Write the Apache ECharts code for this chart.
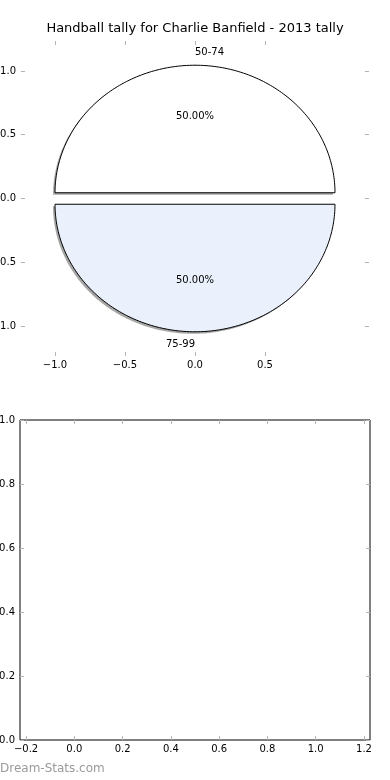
<!DOCTYPE html>
<html><head><meta charset="utf-8">
<script src="https://cdn.jsdelivr.net/npm/echarts@6/dist/echarts.min.js"></script>
<style>html,body{margin:0;padding:0;background:#fff}#c{width:390px;height:780px}</style>
</head><body><div id="c"></div>
<script>
const titleText = 'Handball tally for Charlie Banfield - 2013 tally';
const categories = ['50-74', '75-99'];
const values = [50, 50];
const sliceColors = ['#ffffff', '#ebf1fc'];
const explode = [0.045, 0.045];
const pieXTicks = [-1.0, -0.5, 0.0, 0.5];
const pieYTicks = [-1.0, -0.5, 0.0, 0.5, 1.0];
const emptyXTicks = [-0.2, 0.0, 0.2, 0.4, 0.6, 0.8, 1.0, 1.2];
const emptyYTicks = [0.0, 0.2, 0.4, 0.6, 0.8, 1.0];
const watermark = 'Dream-Stats.com';

const FONT = 'DejaVu Sans';
const fmt = v => { const s = Math.abs(v).toFixed(1); return v < -1e-9 ? '\u2212' + s : s; };

function mkAxis(gridIndex, position, min, max, ticks, labels, margin) {
  return {
    type: 'value', gridIndex: gridIndex, position: position, min: min, max: max,
    axisLine: { show: false, onZero: false },
    splitLine: { show: false },
    axisTick: { show: true, inside: true, length: 4, customValues: ticks, lineStyle: { color: '#b4b4b4', width: 1 } },
    axisLabel: { show: labels, customValues: ticks, formatter: fmt, margin: margin, color: '#000', fontFamily: FONT, fontSize: 10 }
  };
}

const total = values.reduce((a, b) => a + b, 0);

function renderSlice(params, api) {
  const i = params.dataIndex;
  let before = 0;
  for (let k = 0; k < i; k++) before += values[k];
  const v = api.value(1);
  const t1 = before / total * 2 * Math.PI;
  const t2 = (before + v) / total * 2 * Math.PI;
  const tm = (t1 + t2) / 2;
  const ex = explode[i];
  const cx = ex * Math.cos(tm), cy = ex * Math.sin(tm);
  const pts = [api.coord([cx, cy])];
  const n = 160;
  for (let k = 0; k <= n; k++) {
    const t = t1 + (t2 - t1) * k / n;
    pts.push(api.coord([cx + Math.cos(t), cy + Math.sin(t)]));
  }
  const shadowPts = pts.map(p => [p[0] - 2, p[1] + 2]);
  const pct = api.coord([cx + 0.6 * Math.cos(tm), cy + 0.6 * Math.sin(tm)]);
  const lab = api.coord([cx + 1.1 * Math.cos(tm), cy + 1.1 * Math.sin(tm)]);
  return {
    type: 'group',
    children: [
      { type: 'polygon', shape: { points: shadowPts }, style: { fill: 'rgba(77,77,77,0.5)' }, z2: 0 },
      { type: 'polygon', shape: { points: pts }, style: { fill: sliceColors[i], stroke: '#000', lineWidth: 1 }, z2: 10 },
      { type: 'text', z2: 20, style: { text: (v / total * 100).toFixed(2) + '%', x: pct[0], y: pct[1], align: 'center', verticalAlign: 'middle', font: '10px "DejaVu Sans"', fill: '#000' } },
      { type: 'text', z2: 20, style: { text: categories[i], x: lab[0], y: lab[1], align: Math.cos(tm) > 0 ? 'left' : 'right', verticalAlign: 'middle', font: '10px "DejaVu Sans"', fill: '#000' } }
    ]
  };
}

const chart = echarts.init(document.getElementById('c'), null, { renderer: 'canvas' });
chart.setOption({
  animation: false,
  backgroundColor: '#ffffff',
  grid: [
    { left: 21, top: 41, width: 348, height: 315, show: false, outerBoundsMode: 'none', containLabel: false },
    { left: 20, top: 420, width: 350, height: 320, show: true, borderColor: '#000', borderWidth: 1, backgroundColor: 'transparent', outerBoundsMode: 'none', containLabel: false }
  ],
  xAxis: [
    mkAxis(0, 'bottom', -1.243, 1.243, pieXTicks, true, 4),
    mkAxis(0, 'top', -1.243, 1.243, pieXTicks, false, 4),
    mkAxis(1, 'bottom', -0.225, 1.225, emptyXTicks, true, 4),
    mkAxis(1, 'top', -0.225, 1.225, emptyXTicks, false, 4)
  ],
  yAxis: [
    mkAxis(0, 'left', -1.235, 1.235, pieYTicks, true, 5),
    mkAxis(0, 'right', -1.235, 1.235, pieYTicks, false, 5),
    mkAxis(1, 'left', 0, 1, emptyYTicks, true, 5),
    mkAxis(1, 'right', 0, 1, emptyYTicks, false, 5)
  ],
  graphic: [
    { type: 'text', left: 'center', top: 22, style: { text: titleText, font: '13px "DejaVu Sans"', fill: '#000' } },
    { type: 'text', left: 0, top: 763, style: { text: watermark, font: '12px "DejaVu Sans"', fill: '#9a9a9a' } }
  ],
  series: [
    {
      type: 'custom', coordinateSystem: 'cartesian2d', xAxisIndex: 0, yAxisIndex: 0,
      clip: false, silent: true,
      data: values.map((v, i) => [i, v]),
      renderItem: renderSlice
    }
  ]
});
</script></body></html>
